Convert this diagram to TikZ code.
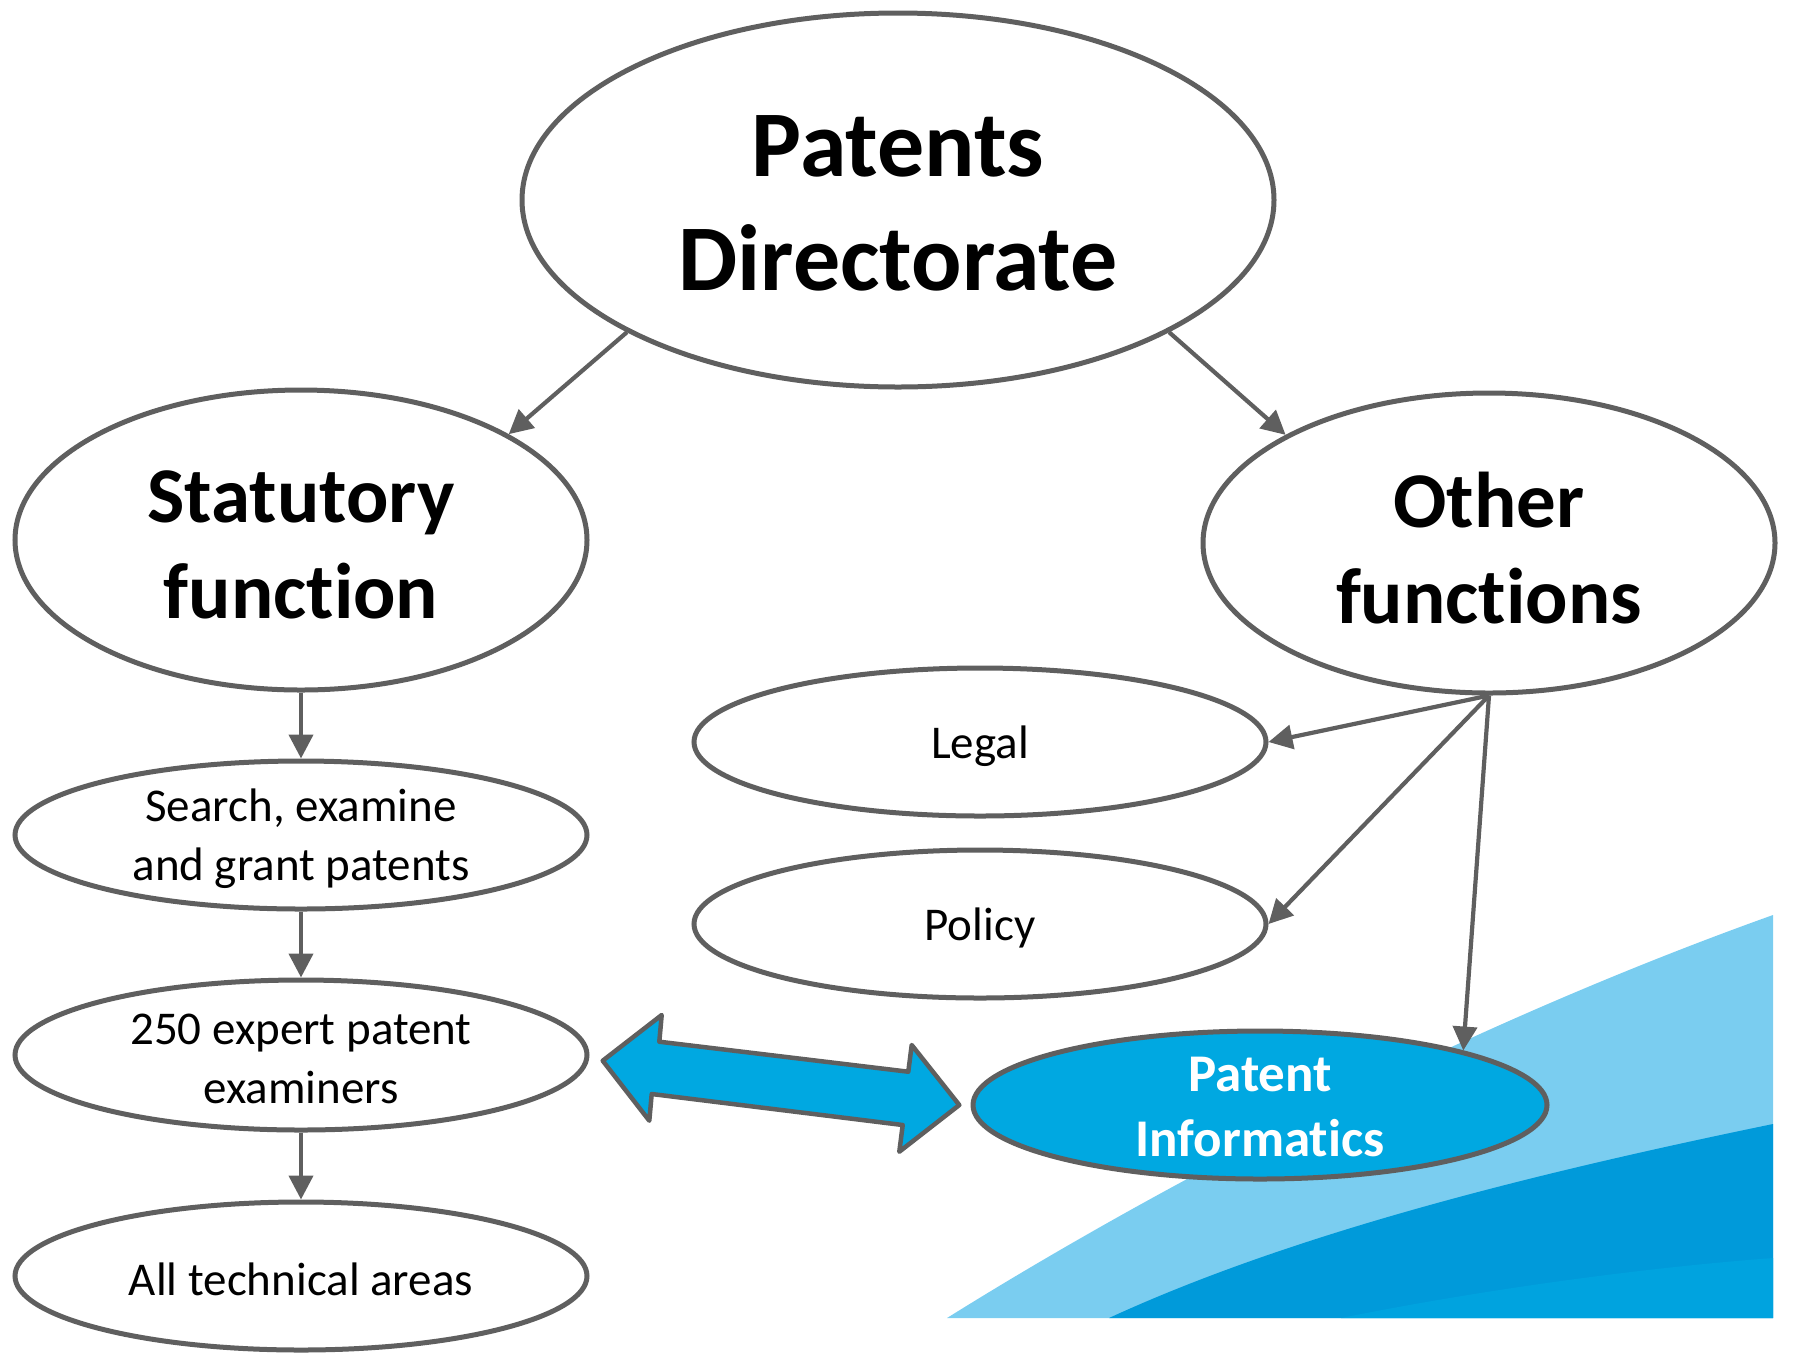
\documentclass[tikz,border=0pt]{standalone}
\usepackage{fontspec}
\setmainfont{Carlito}[Ligatures=NoCommon]
\usetikzlibrary{shapes.geometric,arrows.meta}
\definecolor{lg}{HTML}{5F5F5F}
\definecolor{piblue}{HTML}{00A8E1}
\definecolor{lightbg}{HTML}{7ACDF0}
\definecolor{darkbg}{HTML}{009ADA}
\definecolor{bandbg}{HTML}{00A3DF}
\begin{document}
\begin{tikzpicture}[x=1pt,y=-1pt,
  ell/.style={ellipse, draw=lg, line width=5pt, fill=white, inner sep=0pt, minimum width=572pt, minimum height=148pt},
  conn/.style={draw=lg, line width=4.2pt, -{Triangle[length=24pt,width=24pt]}},
  small/.style={font=\fontsize{47}{59}\selectfont, align=center, text=black, inner sep=0pt},
  big/.style={font=\fontsize{79}{96}\selectfont\bfseries, align=center, text=black, inner sep=0pt},
  huge/.style={font=\fontsize{94}{114}\selectfont\bfseries, align=center, text=black, inner sep=0pt},
  pitext/.style={font=\fontsize{53}{65}\selectfont\bfseries, align=center, text=white, inner sep=0pt},
  ]
\useasboundingbox (0,0) rectangle (1793,1353);
% background bands
\fill[lightbg] (947,1318) .. controls (1160,1185) and (1465,1025) .. (1773,915) -- (1773,1318) -- cycle;
\fill[darkbg] (1109,1318) .. controls (1300,1230) and (1550,1170) .. (1773,1124) -- (1773,1318) -- cycle;
\fill[bandbg] (1341,1318) .. controls (1480,1290) and (1640,1268) .. (1773,1258) -- (1773,1318) -- cycle;
% nodes
\node[ell, minimum width=752pt, minimum height=374pt] (pd) at (898,200) {};
\node[ell, minimum height=300pt] (stat) at (301,540) {};
\node[ell, minimum height=300pt] (other) at (1489,543) {};
\node[ell] (legal) at (980,742) {};
\node[ell] (policy) at (980,924) {};
\node[ell] (search) at (301,835) {};
\node[ell, minimum height=150pt] (exam) at (301,1055) {};
\node[ell] (all) at (301,1276) {};
\node[ell, fill=piblue, minimum width=574pt] (pi) at (1260,1105) {};
% texts
\node[huge] (pdt) at ([yshift=-3pt]pd.center) {Patents\\Directorate};
\node[big] (statt) at ([yshift=-5pt]stat.center) {Statutory\\function};
\node[big] (othert) at ([yshift=-5pt]other.center) {Other\\functions};
\node[small] (legalt) at ([yshift=-4pt]legal.center) {Legal};
\node[small] (policyt) at ([yshift=-4pt]policy.center) {Policy};
\node[small] (searcht) at ([yshift=-4pt]search.center) {Search, examine\\and grant patents};
\node[small] (examt) at ([yshift=-4pt]exam.center) {250 expert patent\\examiners};
\node[small] (allt) at ([yshift=-3pt]all.center) {All technical areas};
\node[pitext] (pit) at ([yshift=-2pt]pi.center) {Patent\\Informatics};
% connectors
\draw[conn] (pd.206.7) -- (stat.27.7);
\draw[conn] (pd.-26.7) -- (other.152.1);
\draw[conn] (stat.south) -- (search.north);
\draw[conn] (search.south) -- (exam.north);
\draw[conn] (exam.south) -- (all.north);
\draw[conn] (other.south) -- (legal.east);
\draw[conn] (other.south) -- (policy.east);
\draw[conn] (other.south) -- (pi.15);
% double block arrow
\draw[draw=lg, line width=4.5pt, fill=piblue, line join=round]
  (602.7,1060.7) -- (661.7,1015) -- (659.3,1041.7) -- (908.3,1071.7) -- (911.7,1045)
  -- (959.3,1105) -- (899.3,1151.7) -- (902.7,1125) -- (651.7,1094) -- (649.3,1120.7) -- cycle;
\end{tikzpicture}
\end{document}
